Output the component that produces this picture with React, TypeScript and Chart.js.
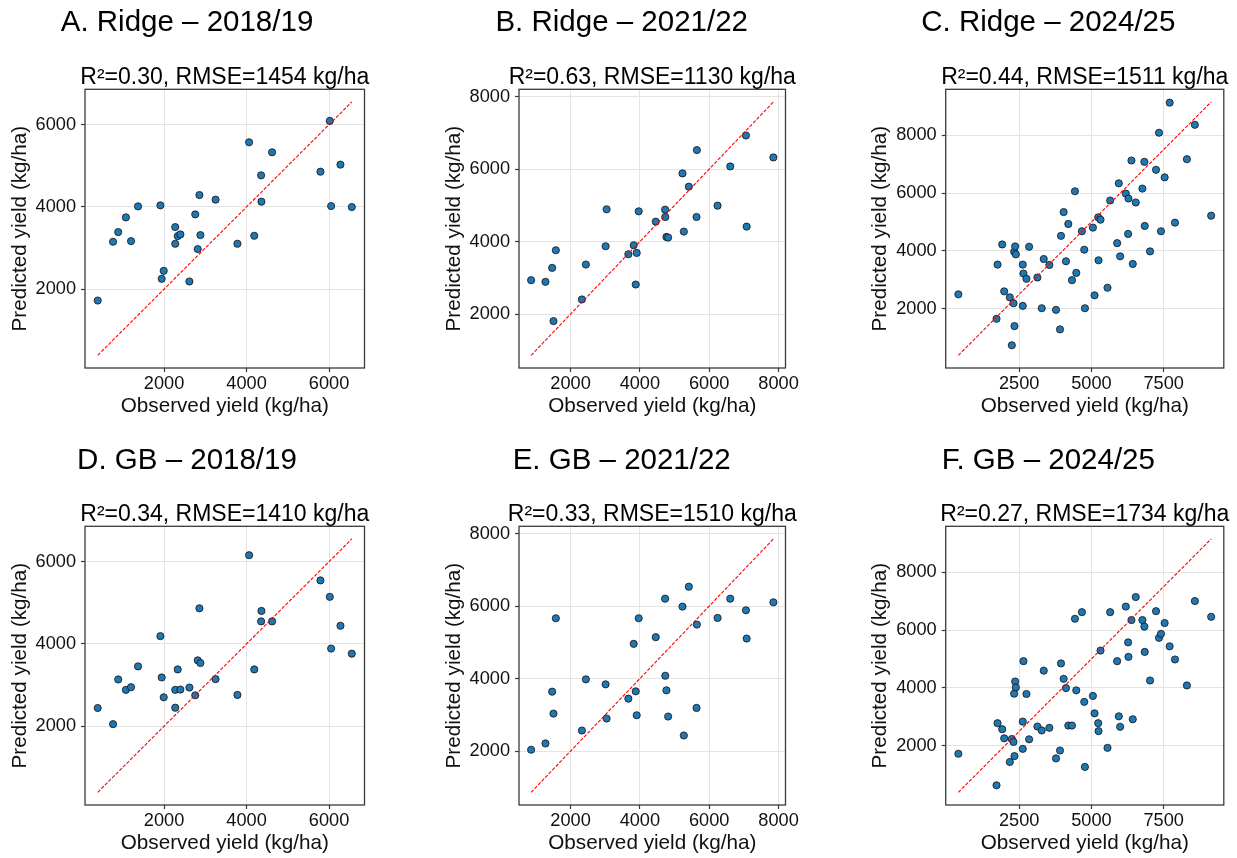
import React, { useEffect, useRef } from 'react';
import { Chart, registerables } from 'chart.js';
Chart.register(...registerables);

const FONT = "'Liberation Sans', Arial, Helvetica, sans-serif";

// ---------------- data ----------------
const obs1819 = [392, 764, 889, 1075, 1200, 1370, 1911, 1943, 1992, 2271, 2271, 2331, 2396, 2614, 2756, 2816, 2857, 2881, 3249, 3778, 4061, 4186, 4352, 4360, 4618, 5790, 6016, 6049, 6275, 6550];
const ridgePred1819 = [1724, 3152, 3388, 3745, 3168, 4012, 4037, 2252, 2446, 3509, 3104, 3290, 3331, 2187, 3818, 2974, 4288, 3314, 4175, 3104, 5570, 3298, 4767, 4126, 5327, 4856, 6089, 4020, 5027, 3996];
const gbPred1819 = [2441, 2049, 3135, 2882, 2947, 3453, 4188, 3184, 2702, 2882, 2449, 3380, 2890, 2939, 2751, 3600, 4865, 3535, 3143, 2759, 6155, 3380, 4547, 4800, 4547, 5543, 5143, 3886, 4441, 3763];

const obs2122 = [863, 1277, 1470, 1508, 1576, 2328, 2443, 3012, 3041, 3668, 3822, 3880, 3909, 3966, 4458, 4728, 4733, 4766, 4815, 5229, 5268, 5412, 5634, 5644, 6241, 6607, 7060, 7080, 7851];
const ridgePred2122 = [2936, 2890, 3275, 1807, 3761, 2404, 3367, 3872, 4890, 3651, 3899, 2816, 3688, 4835, 4550, 4881, 4679, 4128, 4110, 5881, 4275, 5514, 4679, 6523, 4991, 6073, 6926, 4413, 6321];
const gbPred2122 = [2037, 2211, 3640, 3035, 5664, 2568, 3979, 3841, 2898, 3447, 4959, 3649, 2989, 5664, 5142, 6204, 4079, 3676, 2953, 5985, 2431, 6534, 3191, 5490, 5673, 6204, 5884, 5105, 6104];

const obs2425 = [397, 1718, 1753, 1914, 1983, 2178, 2247, 2305, 2328, 2339, 2362, 2385, 2626, 2626, 2649, 2753, 2845, 3132, 3282, 3351, 3546, 3776, 3914, 3948, 4040, 4121, 4201, 4328, 4431, 4477, 4672, 4753, 4776, 5052, 5109, 5236, 5247, 5316, 5557, 5649, 5891, 5948, 5994, 6190, 6270, 6282, 6385, 6431, 6534, 6764, 6833, 6845, 7029, 7236, 7339, 7408, 7534, 7707, 7891, 8304, 8580, 9143];
const ridgePred2425 = [2502, 1658, 3529, 4224, 2605, 2399, 745, 2194, 3973, 1407, 4156, 3882, 3529, 2103, 3220, 3038, 4145, 3084, 2023, 3722, 3517, 1966, 1293, 4521, 5342, 3643, 4932, 2992, 6061, 3243, 4681, 4042, 2023, 4806, 2468, 5160, 3677, 5080, 2730, 5741, 4270, 6335, 3814, 5981, 4589, 5810, 7122, 3551, 5673, 6152, 7076, 4863, 3985, 6802, 8080, 4681, 6540, 9118, 4977, 7167, 8354, 5217];
const gbPred2425 = [1728, 639, 2783, 2578, 2261, 1444, 2238, 2136, 3803, 1648, 4223, 4019, 2839, 1898, 4926, 3792, 2227, 2669, 2533, 4597, 2624, 1569, 1841, 4847, 4314, 3996, 2703, 2703, 6389, 3917, 6616, 3520, 1274, 3724, 3123, 2783, 2510, 5289, 1932, 6616, 4926, 3021, 2658, 6809, 5573, 5074, 6344, 2919, 7138, 6344, 6117, 5244, 4257, 6650, 5731, 5868, 6242, 5437, 4983, 4087, 7002, 6457];

const ticks1819 = [2000, 4000, 6000];
const ticks2122 = [2000, 4000, 6000, 8000];
const xTicks2425 = [2500, 5000, 7500];
const yTicks2425 = [2000, 4000, 6000, 8000];

const panelTitles = ['A. Ridge – 2018/19', 'B. Ridge – 2021/22', 'C. Ridge – 2024/25', 'D. GB – 2018/19', 'E. GB – 2021/22', 'F. GB – 2024/25'];
const panelStats = ['R²=0.30, RMSE=1454 kg/ha', 'R²=0.63, RMSE=1130 kg/ha', 'R²=0.44, RMSE=1511 kg/ha', 'R²=0.34, RMSE=1410 kg/ha', 'R²=0.33, RMSE=1510 kg/ha', 'R²=0.27, RMSE=1734 kg/ha'];
const xLabel = 'Observed yield (kg/ha)';
const yLabel = 'Predicted yield (kg/ha)';

// ---------------- layout ----------------
const COLS = [
  { cx0: 0, cx1: 380, left: 85, right: 364.5, titleCX: 187, ylabelMid: 20.4 },
  { cx0: 415, cx1: 805, left: 519, right: 785.5, titleCX: 621.7, ylabelMid: 453.8 },
  { cx0: 845, cx1: 1237, left: 945.7, right: 1223.8, titleCX: 1048.3, ylabelMid: 880.6 },
];
const ROWS = [
  { cy0: 0, top: 89.3, bottom: 368, titleBase: 33 },
  { cy0: 430, top: 526.3, bottom: 805, titleBase: 471 },
];
const TITLE_SIZE = 29.5;
const SUB_SIZE = 23;
const LABEL_SIZE = 20.7;
const TICK_SIZE = 18.2;
const MID = 0.3465;
const SUB_GAP = 5.5;
const X_AXIS_H = 52;
const X_LABEL_OFFSET = 37.8;

const PANELS = [
  { col: 0, row: 0, obs: obs1819, pred: ridgePred1819, xTicks: ticks1819, yTicks: ticks1819 },
  { col: 1, row: 0, obs: obs2122, pred: ridgePred2122, xTicks: ticks2122, yTicks: ticks2122 },
  { col: 2, row: 0, obs: obs2425, pred: ridgePred2425, xTicks: xTicks2425, yTicks: yTicks2425 },
  { col: 0, row: 1, obs: obs1819, pred: gbPred1819, xTicks: ticks1819, yTicks: ticks1819 },
  { col: 1, row: 1, obs: obs2122, pred: gbPred2122, xTicks: ticks2122, yTicks: ticks2122 },
  { col: 2, row: 1, obs: obs2425, pred: gbPred2425, xTicks: xTicks2425, yTicks: yTicks2425 },
];

const framePlugin = {
  id: 'frame',
  afterDraw(chart: any) {
    const { ctx, chartArea: a } = chart;
    ctx.save();
    ctx.strokeStyle = '#3a3a3a';
    ctx.lineWidth = 1.3;
    ctx.strokeRect(a.left, a.top, a.right - a.left, a.bottom - a.top);
    ctx.restore();
  },
};

// axes title (statistics line) centred over the plot area, drawn without width compression
const statsPlugin = {
  id: 'statsLine',
  afterDraw(chart: any, _args: any, opts: any) {
    const { ctx, chartArea: a } = chart;
    ctx.save();
    ctx.font = `${SUB_SIZE}px ${FONT}`;
    ctx.fillStyle = '#000';
    ctx.textAlign = 'center';
    ctx.textBaseline = 'alphabetic';
    ctx.fillText(opts.text, (a.left + a.right) / 2, a.top - SUB_GAP);
    ctx.restore();
  },
};

function Panel({ idx }: { idx: number }) {
  const ref = useRef<HTMLCanvasElement>(null);
  const p = PANELS[idx];
  const col = COLS[p.col];
  const row = ROWS[p.row];
  const W = col.cx1 - col.cx0;
  const H = Math.round(row.bottom + X_AXIS_H - row.cy0);

  useEffect(() => {
    if (!ref.current) return;
    const all = p.obs.concat(p.pred);
    const lo = Math.min(...all);
    const hi = Math.max(...all);
    const m = (hi - lo) * 0.05;

    const pl = 2 * col.titleCX - col.right - col.cx0;
    const pr = col.cx1 - col.right;
    const yAxisW = col.left - col.cx0 - pl;
    const L1 = TITLE_SIZE * 1.2;
    const LL = LABEL_SIZE * 1.2;
    const titleMid = row.titleBase - MID * TITLE_SIZE - row.cy0;
    const pt = titleMid - L1 / 2;
    const chartTop = row.top - row.cy0;
    const titlePadBottom = chartTop - pt - L1;
    const yTitlePad = col.ylabelMid - (col.cx0 + pl) - LL / 2;
    const xTitlePad = X_AXIS_H - X_LABEL_OFFSET - LL / 2;

    const tickFont = { family: FONT, size: TICK_SIZE, lineHeight: 1.2 };
    const labelFont = { family: FONT, size: LABEL_SIZE, lineHeight: 1.2 };
    const grid = { color: '#e4e4e4', lineWidth: 1, drawTicks: true, tickLength: 4, tickColor: '#3a3a3a', tickWidth: 1.2 };

    const chart = new Chart(ref.current, {
      type: 'scatter',
      data: {
        datasets: [
          {
            data: p.obs.map((o, i) => ({ x: o, y: p.pred[i] })),
            backgroundColor: '#1f77b4',
            borderColor: '#111111',
            pointRadius: 3.6,
            pointHoverRadius: 3.6,
            pointBorderWidth: 0.8,
            order: 1,
          },
          {
            data: [{ x: lo, y: lo }, { x: hi, y: hi }],
            showLine: true,
            borderColor: '#ff0000',
            borderWidth: 1.1,
            borderDash: [3.5, 1.6],
            pointRadius: 0,
            pointHoverRadius: 0,
            order: 0,
          },
        ],
      },
      options: {
        responsive: false,
        animation: false,
        events: [],
        layout: { padding: { left: pl, right: pr, top: pt, bottom: 0 } },
        plugins: {
          legend: { display: false },
          tooltip: { enabled: false },
          title: {
            display: true,
            text: panelTitles[idx],
            color: '#000',
            fullSize: true,
            font: { family: FONT, size: TITLE_SIZE, weight: 'normal', lineHeight: 1.2 },
            padding: { top: 0, bottom: titlePadBottom },
          },
          statsLine: { text: panelStats[idx] },
        },
        scales: {
          x: {
            type: 'linear',
            min: lo - m,
            max: hi + m,
            afterBuildTicks: (s: any) => { s.ticks = p.xTicks.map((v) => ({ value: v })); },
            afterFit: (s: any) => { s.height = X_AXIS_H; s.paddingLeft = 0; s.paddingRight = 0; s.paddingTop = 0; s.paddingBottom = 0; },
            ticks: { autoSkip: false, maxRotation: 0, minRotation: 0, padding: 1.3, color: '#111', font: tickFont, callback: (v: any) => String(v) },
            grid,
            border: { display: false },
            title: { display: true, text: xLabel, color: '#111', font: labelFont, padding: { top: 0, bottom: xTitlePad } },
          },
          y: {
            type: 'linear',
            min: lo - m,
            max: hi + m,
            afterBuildTicks: (s: any) => { s.ticks = p.yTicks.map((v) => ({ value: v })); },
            afterFit: (s: any) => { s.width = yAxisW; s.paddingLeft = 0; s.paddingRight = 0; s.paddingTop = 0; s.paddingBottom = 0; },
            ticks: { autoSkip: false, padding: 5, color: '#111', font: tickFont, callback: (v: any) => String(v) },
            grid,
            border: { display: false },
            title: { display: true, text: yLabel, color: '#111', font: labelFont, padding: { top: yTitlePad, bottom: 0 } },
          },
        },
      } as any,
      plugins: [framePlugin, statsPlugin],
    });
    return () => chart.destroy();
  }, []);

  return (
    <canvas
      ref={ref}
      width={W}
      height={H}
      style={{ position: 'absolute', left: col.cx0, top: row.cy0, width: W, height: H }}
    />
  );
}

export default function App() {
  return (
    <div style={{ position: 'absolute', left: 0, top: 0, width: 1237, height: 858, overflow: 'hidden', background: '#ffffff' }}>
      {PANELS.map((_, i) => (
        <Panel key={i} idx={i} />
      ))}
    </div>
  );
}
